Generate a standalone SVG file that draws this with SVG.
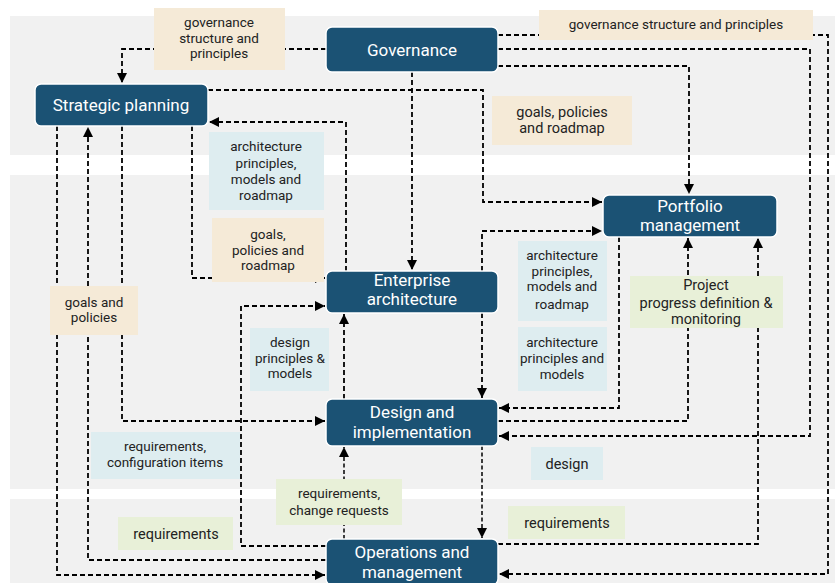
<svg xmlns="http://www.w3.org/2000/svg" width="835" height="583" viewBox="0 0 835 583">
<defs>
<marker id="ah" markerUnits="userSpaceOnUse" markerWidth="11" markerHeight="11" refX="10" refY="5" orient="auto">
<path d="M0,0 L10,5 L0,10 z" fill="#000"/>
</marker>
<style>
.band{fill:#f1f1f1}
.node rect{fill:#1b5274;stroke:#fff;stroke-width:1.5}
.node text{fill:#fff;font-family:Roboto,"Liberation Sans",sans-serif;font-size:17px;text-anchor:middle}
.conn path{fill:none;stroke:#000;stroke-width:1.8;stroke-dasharray:5 3;marker-end:url(#ah)}
.conn path.fine{stroke-width:1.5;stroke-dasharray:4 2.5}
.lbl text{fill:#222;font-family:Roboto,"Liberation Sans",sans-serif;font-size:13.5px;text-anchor:middle}
.lbl text.big{font-size:14.5px}
.beige{fill:#f5ead7}
.blue{fill:#deedf0}
.green{fill:#e8f0d8}
</style>
</defs>
<rect class="band" x="10" y="16" width="825" height="139"/>
<rect class="band" x="10" y="175" width="825" height="314"/>
<rect class="band" x="10" y="499" width="825" height="84"/>

<g id="connectors" class="conn">
<path d="M326,49 H122 V83"/>
<path d="M412,72 V270"/>
<path d="M498,66 H689 V194"/>
<path d="M498,49 H810 V436 H499"/>
<path d="M498,35 H828 V574 H499"/>
<path d="M208,90 H483 V202 H602"/>
<path d="M346,271 V122 H209"/>
<path d="M192,126 V278 H325"/>
<path d="M122,126 V421 H325"/>
<path d="M57,126 V575 H325"/>
<path d="M326,560 H88 V127"/>
<path d="M326,546 H241 V306 H325"/>
<path d="M344,399 V314"/>
<path d="M482,313 V398"/>
<path class="fine" d="M482,446 V538"/>
<path class="fine" d="M344,539 V447"/>
<path d="M482,271 V231 H602"/>
<path d="M619,237 V408 H499"/>
<path d="M498,421 H688 V238"/>
<path d="M498,544 H758 V238"/>
</g>

<g id="labels" class="lbl">
<g id="l-gov-sp"><rect class="beige" x="154" y="8" width="131" height="62"/>
<text x="219" y="27">governance</text><text x="219" y="43">structure and</text><text x="219" y="58">principles</text></g>
<g id="l-gov-ops"><rect class="beige" x="539" y="10" width="274" height="30"/>
<text x="676" y="29">governance structure and principles</text></g>
<g id="l-sp-pm"><rect class="beige" x="492" y="96" width="140" height="49"/>
<text class="big" x="562" y="117">goals, policies</text><text class="big" x="562" y="133">and roadmap</text></g>
<g id="l-ea-sp"><rect class="blue" x="209" y="132" width="115" height="78"/>
<text x="266" y="151">architecture</text><text x="266" y="168">principles,</text><text x="266" y="184">models and</text><text x="266" y="200">roadmap</text></g>
<g id="l-sp-ea"><rect class="beige" x="212" y="218" width="112" height="64"/>
<text x="268" y="239">goals,</text><text x="268" y="255">policies and</text><text x="268" y="270">roadmap</text></g>
<g id="l-gp"><rect class="beige" x="50" y="286" width="88" height="49"/>
<text x="94" y="307">goals and</text><text x="94" y="322">policies</text></g>
<g id="l-dpm"><rect class="blue" x="250" y="328" width="79" height="63"/>
<text x="290" y="347">design</text><text x="290" y="363">principles &amp;</text><text x="290" y="378">models</text></g>
<g id="l-apmr"><rect class="blue" x="518" y="241" width="89" height="80"/>
<text x="562" y="260">architecture</text><text x="562" y="276">principles,</text><text x="562" y="291">models and</text><text x="562" y="309">roadmap</text></g>
<g id="l-apm"><rect class="blue" x="518" y="327" width="89" height="64"/>
<text x="562" y="347">architecture</text><text x="562" y="363">principles and</text><text x="562" y="379">models</text></g>
<g id="l-proj"><rect class="green" x="630" y="276" width="153" height="52"/>
<text class="big" x="706" y="290">Project</text><text class="big" x="706" y="308">progress definition &amp;</text><text class="big" x="706" y="324">monitoring</text></g>
<g id="l-rci"><rect class="blue" x="91" y="432" width="149" height="47"/>
<text x="165" y="451">requirements,</text><text x="165" y="467">configuration items</text></g>
<g id="l-design"><rect class="blue" x="531" y="447" width="72" height="33"/>
<text class="big" x="567" y="469">design</text></g>
<g id="l-rcr"><rect class="green" x="276" y="479" width="126" height="46"/>
<text x="339" y="498">requirements,</text><text x="339" y="515">change requests</text></g>
<g id="l-req1"><rect class="green" x="118" y="517" width="115" height="33"/>
<text class="big" x="176" y="539">requirements</text></g>
<g id="l-req2"><rect class="green" x="508" y="506" width="117" height="33"/>
<text class="big" x="567" y="528">requirements</text></g>
</g>

<g id="governance" class="node"><rect x="326" y="27" width="172" height="45" rx="6"/><text x="412" y="56">Governance</text></g>
<g id="strategic" class="node"><rect x="35" y="84" width="173" height="42" rx="6"/><text x="121" y="111">Strategic planning</text></g>
<g id="portfolio" class="node"><rect x="603" y="195" width="174" height="42" rx="6"/><text x="690" y="212">Portfolio</text><text x="690" y="231">management</text></g>
<g id="enterprise" class="node"><rect x="326" y="271" width="172" height="42" rx="6"/><text x="412" y="286">Enterprise</text><text x="412" y="305">architecture</text></g>
<g id="design" class="node"><rect x="326" y="399" width="172" height="47" rx="6"/><text x="412" y="418">Design and</text><text x="412" y="438">implementation</text></g>
<g id="operations" class="node"><rect x="326" y="539" width="172" height="46" rx="6"/><text x="412" y="558">Operations and</text><text x="412" y="578">management</text></g>
</svg>
